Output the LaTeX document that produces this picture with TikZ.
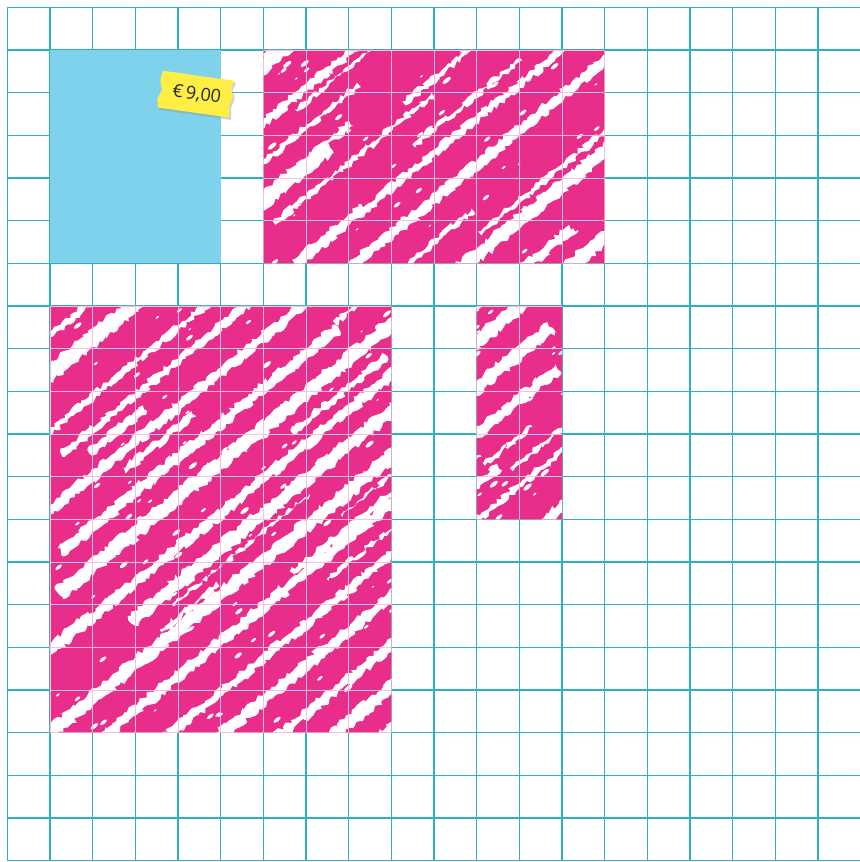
\documentclass[tikz,border=0pt]{standalone}
\usepackage{fontspec}
\newfontfamily\tagfont{Open Sans}
\usetikzlibrary{decorations.pathmorphing}
\definecolor{gridc}{RGB}{48,176,186}
\definecolor{bluec}{RGB}{126,210,236}
\definecolor{pinkc}{RGB}{232,46,138}
\definecolor{tagyellow}{RGB}{255,238,70}
\tikzset{
  gridline/.style={gridc, line width=0.8pt},
  faintgrid/.style={pinkc!30!white, line width=0.4pt},
  streak/.style={white, decorate, decoration={random steps, segment length=2.4pt, amplitude=1.6pt}},
  tagtext/.style={font=\tagfont\fontsize{12}{14}\selectfont, text=black!85, inner sep=0pt}
}
\begin{document}
\begin{tikzpicture}
\useasboundingbox (-0.17,0.17) rectangle (19.98,-20.03);
\fill[white] (-0.17,0.17) rectangle (19.98,-20.03);
% grid paper
\draw[gridline] (0,0) grid (20,-20);
% blue square
\fill[bluec] (1,-1) rectangle (5,-6);
% pink hatched regions
\pgfmathsetseed{31}
\begin{scope}
  \clip (6,-1) rectangle (14,-6) (1,-7) rectangle (9,-17) (11,-7) rectangle (13,-12);
  \fill[pinkc] (0,0) rectangle (20,-20);
  \begin{scope}[rotate=39]
    \foreach \i in {0,...,22}{
      \pgfmathsetmacro\v{-19.8+\i*0.82+0.12*rand}
      \pgfmathsetmacro\w{0.12+0.28*rnd}
      \pgfmathsetmacro\ua{-11+6*rnd}
      \pgfmathsetmacro\ub{\ua+8+14*rnd}
      \fill[streak] (\ua,\v) rectangle (\ub,\v+\w);
    }
    \foreach \i in {0,...,40}{
      \pgfmathsetmacro\v{-19.5+\i*0.44+0.15*rand}
      \pgfmathsetmacro\w{0.05+0.12*rnd}
      \pgfmathsetmacro\ua{-11+20*rnd}
      \pgfmathsetmacro\ub{\ua+1+4*rnd}
      \fill[streak] (\ua,\v) rectangle (\ub,\v+\w);
    }
  \end{scope}
  \foreach \k in {1,...,300}{
    \pgfmathsetmacro\x{1+13*rnd}
    \pgfmathsetmacro\y{-1-16*rnd}
    \pgfmathsetmacro\r{0.015+0.035*rnd}
    \fill[white, rotate around={39:(\x,\y)}] (\x,\y) ellipse ({2.5*\r} and \r);
  }
  \draw[faintgrid] (0,0) grid (20,-20);
\end{scope}
% price tag
\begin{scope}[shift={(4.42,-2.04)}, rotate=-8]
  \fill[black!40, opacity=0.45] (-0.80,0.40) -- (0.90,0.40) -- (0.84,0.22) -- (0.92,0.02) -- (0.86,-0.20) -- (0.90,-0.48) -- (-0.80,-0.48) -- cycle;
  \fill[tagyellow] (-0.84,0.44) -- (0.84,0.44) -- (0.80,0.26) -- (0.87,0.06) -- (0.81,-0.14) -- (0.85,-0.43) -- (-0.84,-0.43) -- (-0.88,-0.22) -- (-0.80,-0.02) -- (-0.87,0.20) -- cycle;
\end{scope}
\node[tagtext, rotate=-8] (price) at (4.44,-2.04) {€\,9,00};
\end{tikzpicture}
\end{document}
